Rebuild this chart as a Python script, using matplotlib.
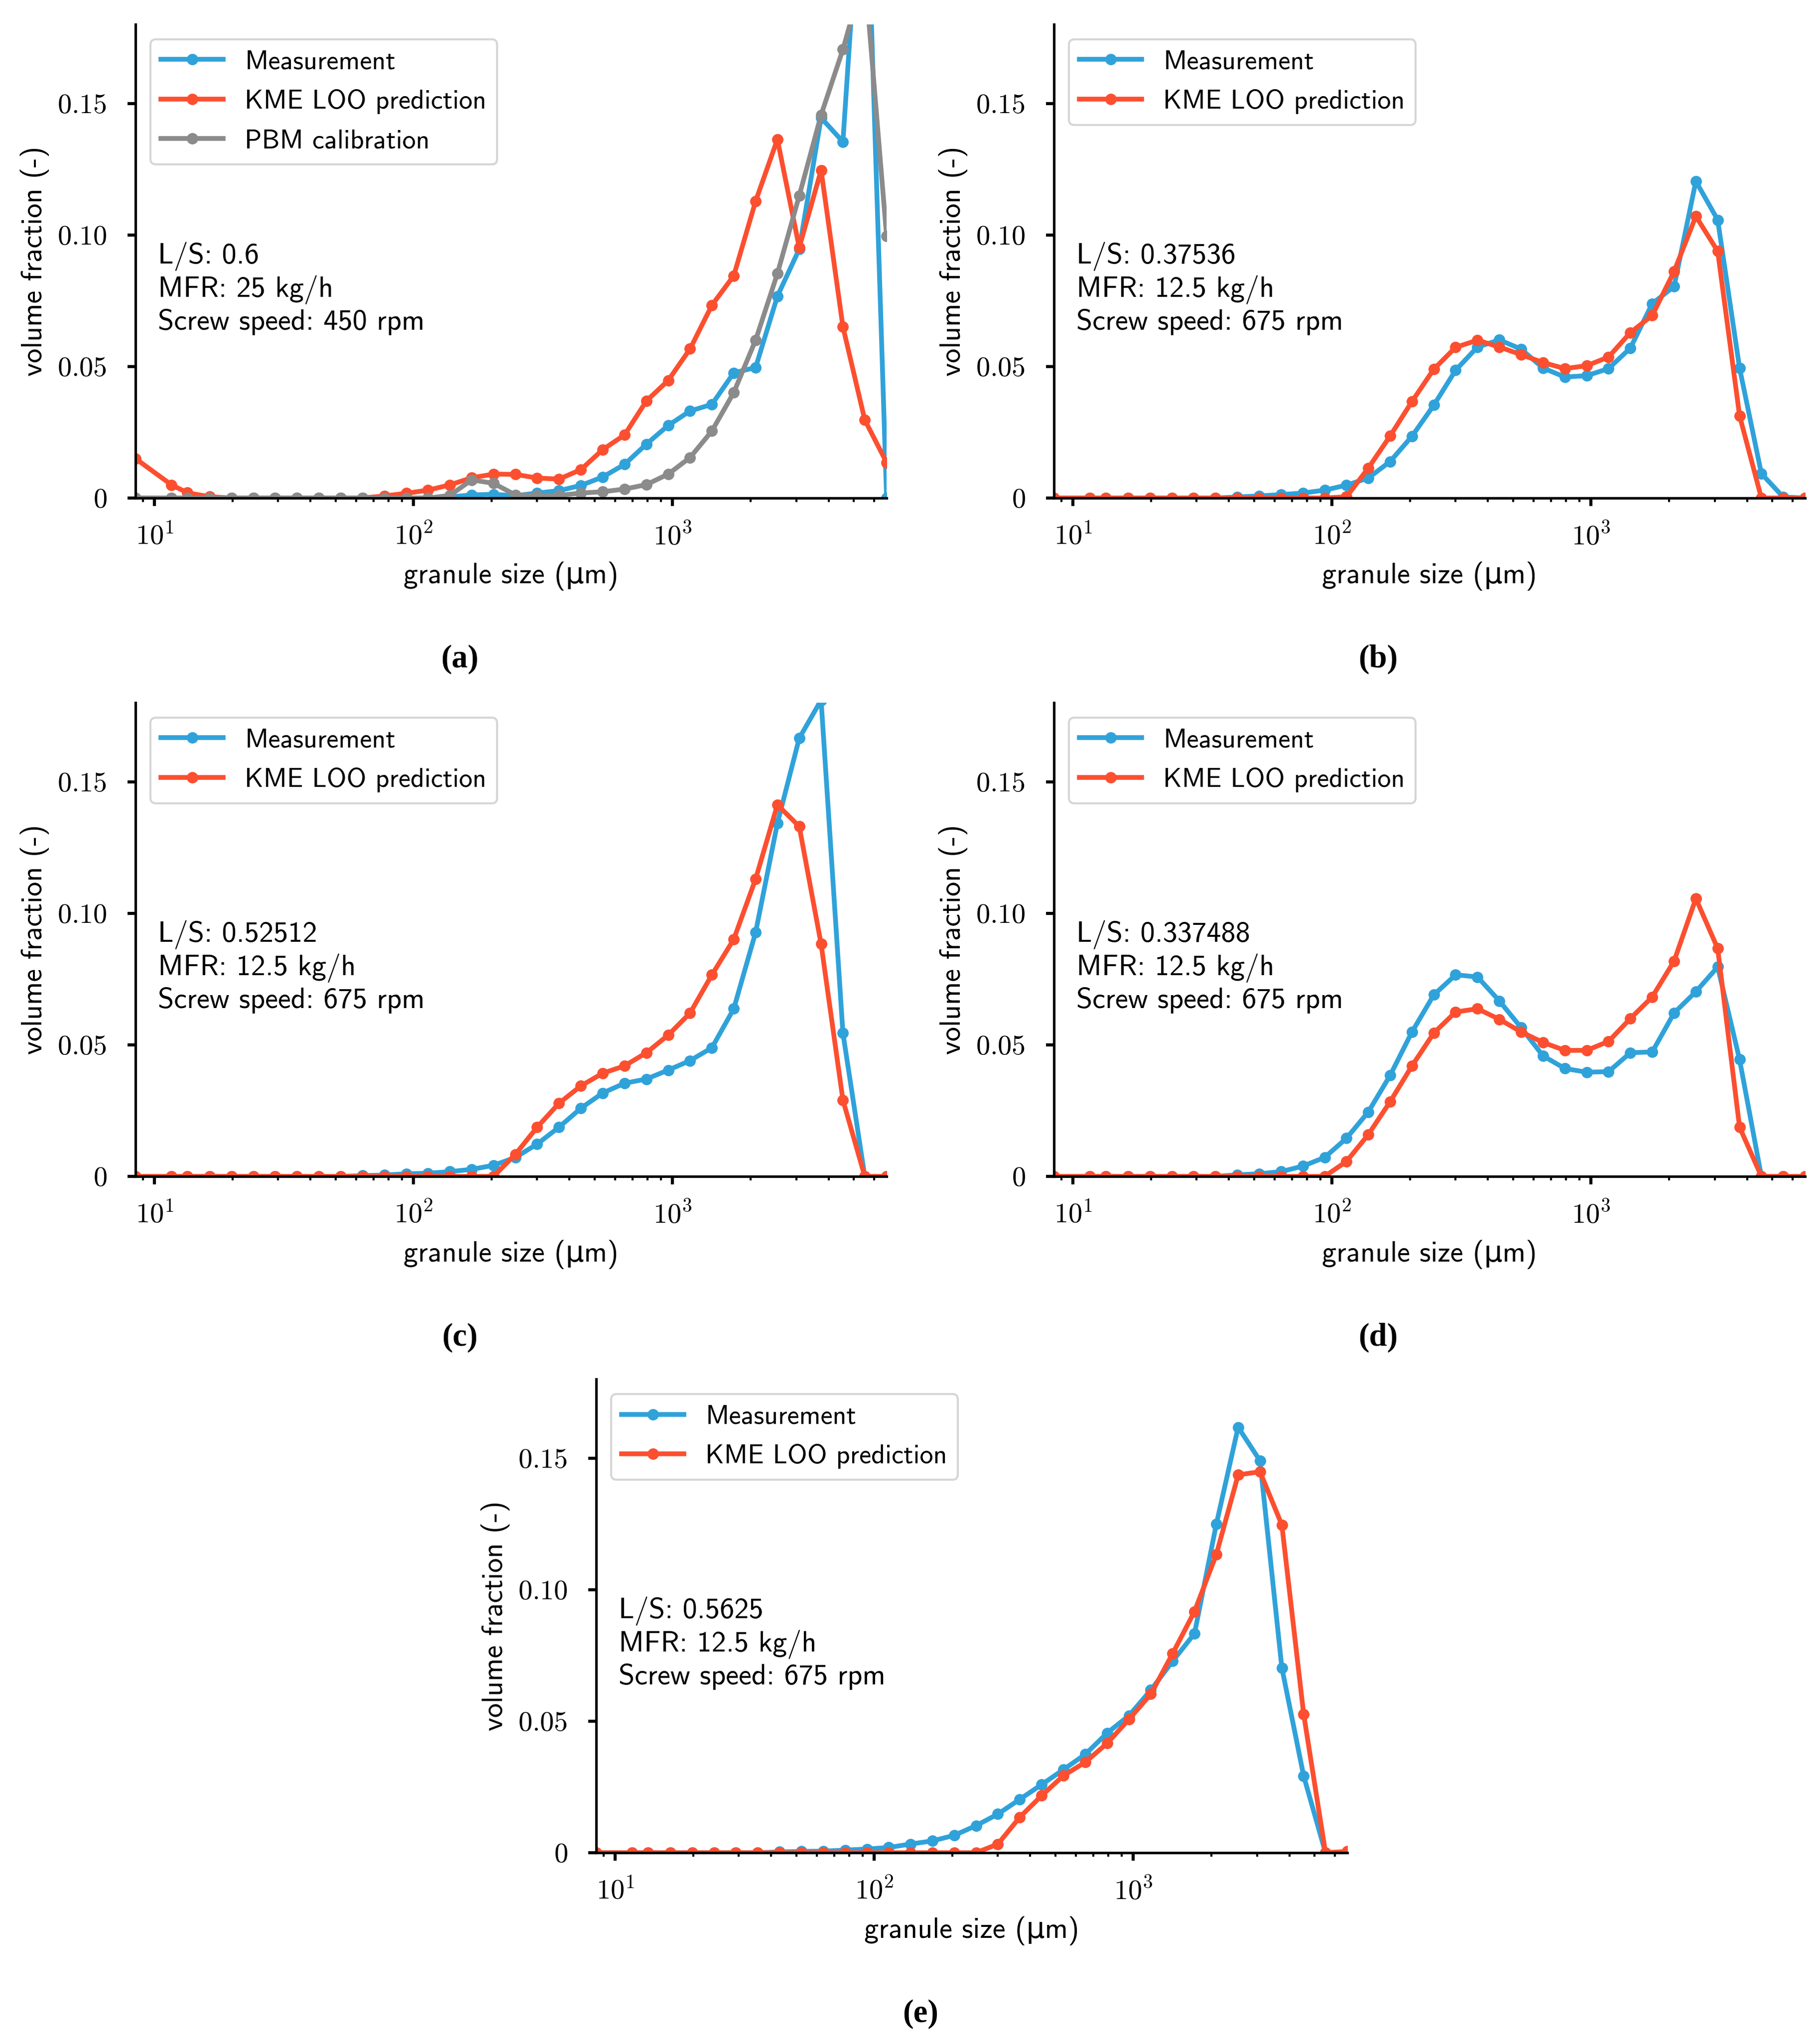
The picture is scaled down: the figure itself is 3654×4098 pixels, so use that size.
import math
import matplotlib
matplotlib.use("Agg")
import matplotlib.pyplot as plt
from matplotlib.ticker import FixedLocator, FuncFormatter, LogLocator, NullFormatter

plt.rcParams['font.family'] = ['cmss10', 'DejaVu Sans']
plt.rcParams['mathtext.fontset'] = 'cm'
plt.rcParams['axes.unicode_minus'] = False

# granule size classes (um)
size = [8.44, 11.63, 13.40, 16.32, 19.82, 24.06, 29.21, 35.47, 43.07, 52.30,
        63.50, 77.11, 93.63, 113.7, 138.0, 167.6, 203.5, 247.1, 300.0, 364.3,
        442.4, 537.2, 652.3, 792.1, 961.6, 1168, 1418, 1722, 2091, 2538,
        3082, 3743, 4544, 5518, 6699]

# (a)
meas_a = [0, 0, 0, 0, 0, 0, 0, 0, 0, 0,
          0, 0, 0, 0, 0.0004, 0.0012, 0.0014, 0.0009, 0.0019, 0.0028,
          0.0048, 0.0080, 0.0128, 0.0205, 0.0276, 0.0331, 0.0356, 0.0476, 0.0496, 0.0767,
          0.0946, 0.1445, 0.1354, 0.26, 0]
kme_a = [0.0150, 0.0050, 0.0020, 0.0005, 0, 0, 0, 0, 0, 0,
         0, 0.0008, 0.0018, 0.0030, 0.0050, 0.0077, 0.0091, 0.0090, 0.0076, 0.0072,
         0.0108, 0.0184, 0.0240, 0.0369, 0.0447, 0.0567, 0.0733, 0.0845, 0.1128, 0.1363,
         0.0952, 0.1246, 0.0651, 0.0297, 0.0135]
pbm_a = [0, 0, 0, 0, 0, 0, 0, 0, 0, 0,
         0, 0, 0, 0, 0.0010, 0.0069, 0.0056, 0.0012, 0.0010, 0.0010,
         0.0019, 0.0024, 0.0034, 0.0051, 0.0091, 0.0154, 0.0255, 0.0401, 0.0600, 0.0853,
         0.1149, 0.1456, 0.1705, 0.20, 0.0995]

# (b)
meas_b = [0, 0, 0, 0, 0, 0, 0, 0, 0.0004, 0.0008,
          0.0013, 0.0019, 0.0030, 0.0049, 0.0076, 0.0139, 0.0235, 0.0353, 0.0486, 0.0574,
          0.0601, 0.0566, 0.0494, 0.0460, 0.0465, 0.0492, 0.0570, 0.0739, 0.0804, 0.1204,
          0.1057, 0.0494, 0.0093, 0.0004, 0]
kme_b = [0, 0, 0, 0, 0, 0, 0, 0, 0, 0,
         0, 0, 0, 0.0005, 0.0114, 0.0236, 0.0367, 0.0490, 0.0573, 0.0600,
         0.0574, 0.0545, 0.0515, 0.0492, 0.0503, 0.0536, 0.0629, 0.0694, 0.0861, 0.1071,
         0.0938, 0.0313, 0, 0, 0]

# (c)
meas_c = [0, 0, 0, 0, 0, 0, 0, 0, 0, 0,
          0.0003, 0.0005, 0.0010, 0.0012, 0.0018, 0.0027, 0.0042, 0.0072, 0.0123, 0.0187,
          0.0259, 0.0317, 0.0354, 0.0370, 0.0404, 0.0440, 0.0489, 0.0637, 0.0927, 0.1342,
          0.1665, 0.181, 0.0545, 0, 0]
kme_c = [0, 0, 0, 0, 0, 0, 0, 0, 0, 0,
         0, 0, 0, 0, 0, 0, 0, 0.0084, 0.0187, 0.0278,
         0.0344, 0.0392, 0.0420, 0.0470, 0.0537, 0.0621, 0.0766, 0.0901, 0.1130, 0.1412,
         0.1330, 0.0883, 0.0290, 0, 0]

# (d)
meas_d = [0, 0, 0, 0, 0, 0, 0, 0, 0.0006, 0.0010,
          0.0018, 0.0039, 0.0072, 0.0145, 0.0245, 0.0384, 0.0549, 0.0690, 0.0766, 0.0758,
          0.0667, 0.0565, 0.0458, 0.0410, 0.0396, 0.0398, 0.0470, 0.0473, 0.0621, 0.0702,
          0.0796, 0.0444, 0, 0, 0]
kme_d = [0, 0, 0, 0, 0, 0, 0, 0, 0, 0,
         0, 0, 0, 0.0057, 0.0159, 0.0284, 0.0420, 0.0545, 0.0625, 0.0637,
         0.0597, 0.0549, 0.0509, 0.0479, 0.0479, 0.0513, 0.0600, 0.0682, 0.0818, 0.1056,
         0.0866, 0.0187, 0, 0, 0]

# (e)
meas_e = [0, 0, 0, 0, 0, 0, 0, 0, 0.0003, 0.0005,
          0.0006, 0.0010, 0.0014, 0.0020, 0.0033, 0.0045, 0.0066, 0.0103, 0.0147, 0.0203,
          0.0259, 0.0316, 0.0374, 0.0455, 0.0521, 0.0618, 0.0728, 0.0833, 0.1249, 0.1617,
          0.1490, 0.0703, 0.0292, 0, 0]
kme_e = [0, 0, 0, 0, 0, 0, 0, 0, 0, 0,
         0, 0, 0, 0, 0, 0, 0, 0, 0.0033, 0.0135,
         0.0217, 0.0293, 0.0344, 0.0416, 0.0507, 0.0603, 0.0757, 0.0917, 0.1134, 0.1436,
         0.1448, 0.1246, 0.0527, 0, 0.0005]

conditions = [
    "L/S: 0.6\nMFR: 25 kg/h\nScrew speed: 450 rpm",
    "L/S: 0.37536\nMFR: 12.5 kg/h\nScrew speed: 675 rpm",
    "L/S: 0.52512\nMFR: 12.5 kg/h\nScrew speed: 675 rpm",
    "L/S: 0.337488\nMFR: 12.5 kg/h\nScrew speed: 675 rpm",
    "L/S: 0.5625\nMFR: 12.5 kg/h\nScrew speed: 675 rpm",
]
captions = ["(a)", "(b)", "(c)", "(d)", "(e)"]
y_ticks = [0, 0.05, 0.10, 0.15]

BLUE = "#30a2da"
RED = "#fc4f30"
GRAY = "#8b8b8b"

W, H = 3654, 4098
fig = plt.figure(figsize=(W / 300, H / 300), dpi=300)

ax_w = 1508 / W
ax_h = 951 / H
# (left px, bottom px)
boxes = [(272, 1000), (2116, 1000), (272, 2362), (2116, 2362), (1197, 3720)]
cap_pos = [(923, 1324), (2767, 1324), (923, 2686), (2767, 2686), (1848, 4044)]

series = [
    [(meas_a, BLUE, "Measurement"), (kme_a, RED, "KME LOO prediction"), (pbm_a, GRAY, "PBM calibration")],
    [(meas_b, BLUE, "Measurement"), (kme_b, RED, "KME LOO prediction")],
    [(meas_c, BLUE, "Measurement"), (kme_c, RED, "KME LOO prediction")],
    [(meas_d, BLUE, "Measurement"), (kme_d, RED, "KME LOO prediction")],
    [(meas_e, BLUE, "Measurement"), (kme_e, RED, "KME LOO prediction")],
]

for i in range(5):
    lx, by = boxes[i]
    ax = fig.add_axes([lx / W, 1 - by / H, ax_w, ax_h])
    for vals, col, lab in series[i]:
        ax.plot(size, vals, color=col, lw=2.3, marker='o', ms=4.5, label=lab)
    ax.set_xscale('log')
    ax.set_xlim(size[0], size[-1])
    ax.set_ylim(0, 0.18)
    for s in ['top', 'right']:
        ax.spines[s].set_visible(False)
    for s in ['left', 'bottom']:
        ax.spines[s].set_linewidth(1.25)
    ax.yaxis.set_major_locator(FixedLocator(y_ticks))
    ax.yaxis.set_major_formatter(FuncFormatter(lambda v, p: r'$0$' if v == 0 else r'$%.2f$' % v))
    ax.xaxis.set_major_locator(LogLocator(base=10, numticks=10))
    ax.xaxis.set_major_formatter(FuncFormatter(lambda v, p: r'$10^{%d}$' % round(math.log10(v))))
    ax.xaxis.set_minor_locator(LogLocator(base=10, subs=range(2, 10), numticks=20))
    ax.xaxis.set_minor_formatter(NullFormatter())
    ax.tick_params(axis='both', which='major', direction='out', length=3.8, width=1.5, labelsize=13.5)
    ax.tick_params(axis='y', which='major', pad=10)
    ax.tick_params(axis='x', which='major', pad=8)
    ax.tick_params(axis='x', which='minor', direction='out', length=2.0, width=1.0)
    ax.set_xlabel("granule size (\u03bcm)", fontsize=14)
    ax.set_ylabel("volume fraction (-)", fontsize=14)
    ax.xaxis.set_label_coords(0.5, -0.134)
    ax.yaxis.set_label_coords(-0.115, 0.5)
    ax.text(0.030, 0.541, conditions[i], transform=ax.transAxes, ha='left', va='top',
            fontsize=14, linespacing=1.2)
    ax.legend(loc='upper left', fontsize=13, handlelength=2.3, borderaxespad=0.55,
              labelspacing=0.55, fancybox=True, framealpha=0.8, edgecolor='0.8')
    cx, cy = cap_pos[i]
    fig.text(cx / W, 1 - cy / H, captions[i], ha='center', va='center',
             family='Liberation Serif', fontweight='bold', fontsize=15.5)

fig.savefig("out.png", dpi=300)
